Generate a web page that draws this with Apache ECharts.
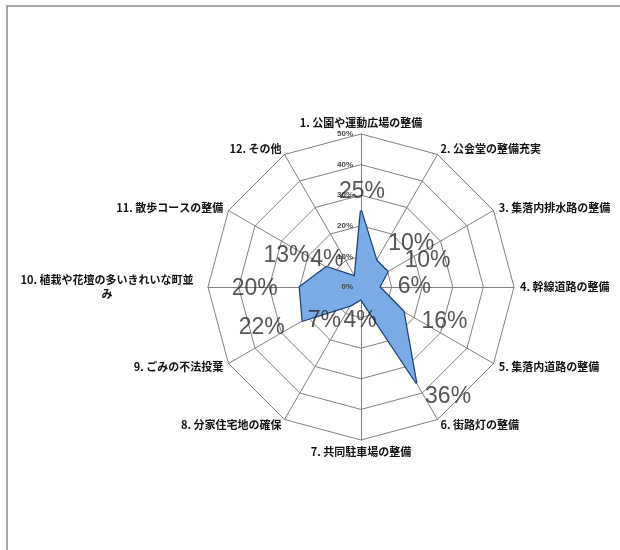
<!DOCTYPE html>
<html>
<head>
<meta charset="utf-8">
<script src="https://cdn.jsdelivr.net/npm/echarts@6/dist/echarts.min.js"></script>
<style>
  html, body { margin: 0; padding: 0; background: #fff; }
  #chart { width: 620px; height: 550px; }
</style>
</head>
<body>
<div id="chart"></div>
<script>
// 項目 (clockwise from top)
const categories = [
  '1. 公園や運動広場の整備',
  '2. 公会堂の整備充実',
  '3. 集落内排水路の整備',
  '4. 幹線道路の整備',
  '5. 集落内道路の整備',
  '6. 街路灯の整備',
  '7. 共同駐車場の整備',
  '8. 分家住宅地の確保',
  '9. ごみの不法投棄',
  '10. 植栽や花壇の多いきれいな町並\nみ',
  '11. 散歩コースの整備',
  '12. その他'
]
// 回答割合 (%)
const shares = [25, 10, 10, 6, 16, 36, 4, 7, 22, 20, 13, 4]
const axisMax = 50
const axisStep = 10

// where each big % label sits relative to its point (px)
const labelOffsets = [
  [1, -19], [35, -17], [40, -11], [35, 0], [41, 10], [32, 14],
  [-1, 21], [-26, 15], [-41, 7], [-45, 2], [-40, -11], [-28, -17]
]

const center = [361, 287]
const radius = 153

// echarts radar runs counter-clockwise, so feed it 1, 12, 11, ... 2
const order = [0].concat(categories.map((c, i) => i).slice(1).reverse())

const myChart = echarts.init(document.getElementById('chart'))

const option = {
  backgroundColor: '#fff',
  animation: false,
  graphic: [{
    type: 'rect',
    shape: { x: 7, y: 6, width: 700, height: 600 },
    style: { fill: 'none', stroke: '#8a8a8a', lineWidth: 1.5 },
    silent: true
  }],
  radar: {
    center: center,
    radius: radius,
    startAngle: 90,
    shape: 'polygon',
    splitNumber: axisMax / axisStep,
    indicator: order.map(i => ({ name: categories[i], min: 0, max: axisMax })),
    axisName: {
      color: '#111',
      fontSize: 11,
      fontWeight: 'bold',
      fontFamily: 'Noto Sans CJK JP',
      formatter: function (value) {
        if (value.indexOf('\n') < 0) return value
        return value.split('\n').map(s => '{c|' + s + '}').join('\n')
      },
      rich: {
        c: { width: 190, align: 'center', fontSize: 11, fontWeight: 'bold', fontFamily: 'Noto Sans CJK JP', color: '#111', lineHeight: 14 }
      }
    },
    nameGap: 6,
    axisLine: { lineStyle: { color: '#808080', width: 1 } },
    splitLine: { lineStyle: { color: '#808080', width: 1 } },
    splitArea: { show: false },
    axisTick: { show: false },
    axisLabel: { show: false }
  },
  polar: {
    center: center,
    radius: radius
  },
  angleAxis: {
    type: 'value',
    min: 0,
    max: 360,
    startAngle: 90,
    clockwise: true,
    show: false
  },
  radiusAxis: {
    type: 'value',
    min: 0,
    max: axisMax,
    interval: axisStep,
    axisLine: { show: false },
    axisTick: { show: false },
    splitLine: { show: false },
    axisLabel: {
      formatter: '{value}%',
      fontSize: 8,
      color: '#444',
      fontFamily: 'Liberation Sans',
      fontWeight: 'bold'
    },
    z: 5
  },
  series: [
    {
      type: 'radar',
      symbol: 'none',
      lineStyle: { color: '#1c4272', width: 2.5 },
      areaStyle: { color: '#7aabe6', opacity: 1 },
      data: [{ value: order.map(i => shares[i]) }]
    },
    {
      type: 'scatter',
      coordinateSystem: 'polar',
      symbolSize: 0,
      z: 10,
      label: {
        show: true,
        position: 'inside',
        formatter: p => p.value[0] + '%',
        fontSize: 23,
        fontFamily: 'Liberation Sans, sans-serif',
        color: '#2a2a2a'
      },
      data: shares.map((v, i) => ({
        value: [v, i * 360 / categories.length],
        label: { offset: labelOffsets[i] }
      }))
    }
  ]
}

myChart.setOption(option)
</script>
</body>
</html>
